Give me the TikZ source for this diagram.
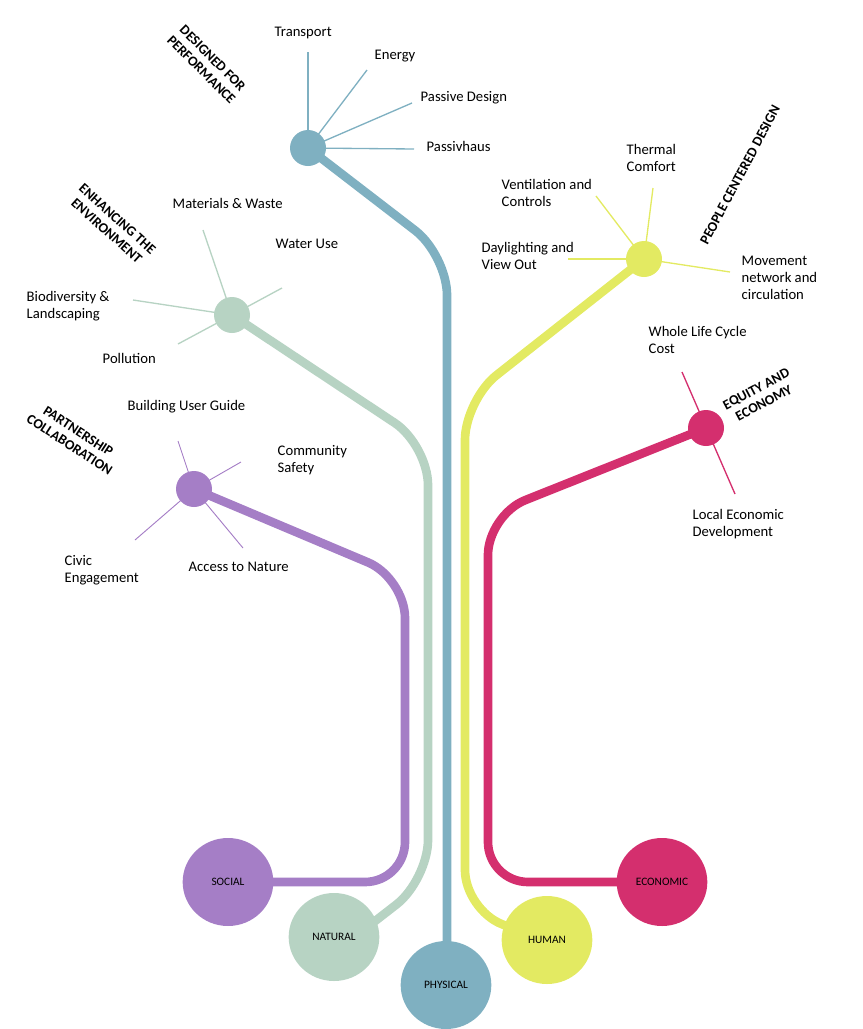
\documentclass[tikz,border=0pt]{standalone}
\usepackage{fontspec}
\setmainfont{Carlito}
\usetikzlibrary{shapes.geometric}
\begin{document}
\begin{tikzpicture}[x=0.75pt,y=-0.75pt,
  lbl/.style={font=\fontsize{11}{13}\selectfont,align=left},
  ttl/.style={font=\fontsize{10.5}{12}\selectfont\bfseries,align=center},
  hub/.style={circle,minimum size=27pt,inner sep=0},
  big/.style={ellipse,minimum width=68pt,minimum height=66pt,inner sep=0,font=\fontsize{8.5}{10}\selectfont},
  trunk/.style={line width=6.5pt,rounded corners=30pt},
  spoke/.style={line width=1pt}]
\useasboundingbox (0,0) rectangle (863,1029);
\definecolor{cB}{HTML}{7FB0C1}\definecolor{cG}{HTML}{B7D3C3}
\definecolor{cP}{HTML}{A57EC6}\definecolor{cY}{HTML}{E3EA62}
\definecolor{cM}{HTML}{D42F6E}
% trunks
\draw[trunk,cB] (308,148) -- (447,255) -- (447,960);
\draw[trunk,cG] (232,315) -- (428,445) -- (428,880) -- (370,925);
\draw[trunk,cP] (194,489) -- (405,578) -- (405,882) -- (260,882);
\draw[trunk,cY] (644,259) -- (465,400) -- (465,910) -- (530,935);
\draw[trunk,cM] (706,428) -- (488,515) -- (488,882) -- (640,882);
% spokes
\coordinate (b1) at (308,52);\coordinate (b2) at (367,70);\coordinate (b3) at (412,103);\coordinate (b4) at (414,149);
\foreach \c in {b1,b2,b3,b4}\draw[spoke,cB] (308,148) -- (\c);
\coordinate (g1) at (203,230);\coordinate (g2) at (282,288);\coordinate (g3) at (133,300);\coordinate (g4) at (178,344);
\foreach \c in {g1,g2,g3,g4}\draw[spoke,cG] (232,315) -- (\c);
\coordinate (p1) at (178,441);\coordinate (p2) at (241,462);\coordinate (p3) at (135,540);\coordinate (p4) at (243,548);
\foreach \c in {p1,p2,p3,p4}\draw[spoke,cP,line width=0.7pt] (194,489) -- (\c);
\coordinate (y1) at (596,196);\coordinate (y2) at (653,188);\coordinate (y3) at (568,259);\coordinate (y4) at (730,272);
\foreach \c in {y1,y2,y3,y4}\draw[spoke,cY] (644,259) -- (\c);
\coordinate (m1) at (682,372);\coordinate (m2) at (735,494);
\draw[spoke,cM] (m1) -- (m2);
% hubs
\node[hub,fill=cB] (hb) at (308,148) {};
\node[hub,fill=cG] (hg) at (232,315) {};
\node[hub,fill=cP] (hp) at (194,489) {};
\node[hub,fill=cY] (hy) at (644,259) {};
\node[hub,fill=cM] (hm) at (706,428) {};
% big circles
\node[big,fill=cB] (PH) at (446,985) {PHYSICAL};
\node[big,fill=cG] (NA) at (334,937) {NATURAL};
\node[big,fill=cP] (SO) at (228,882) {SOCIAL};
\node[big,fill=cY] (HU) at (547,940) {HUMAN};
\node[big,fill=cM] (EC) at (662,882) {ECONOMIC};
% labels
\node[lbl,anchor=west] (t1) at (270,33) {Transport};
\node[lbl,anchor=west] (t2) at (370,56) {Energy};
\node[lbl,anchor=west] (t3) at (416,98) {Passive Design};
\node[lbl,anchor=west] (t4) at (422,146) {Passivhaus};
\node[lbl,anchor=west] (t5) at (168,203) {Materials \& Waste};
\node[lbl,anchor=west] (t6) at (271,244) {Water Use};
\node[lbl,anchor=west] (t7) at (22,306) {Biodiversity \&\\Landscaping};
\node[lbl,anchor=west] (t8) at (98,358) {Pollution};
\node[lbl,anchor=west] (t9) at (123,407) {Building User Guide};
\node[lbl,anchor=west] (t10) at (273,460) {Community\\Safety};
\node[lbl,anchor=west] (t11) at (60,570) {Civic\\Engagement};
\node[lbl,anchor=west] (t12) at (184,567) {Access to Nature};
\node[lbl,anchor=west] (t13) at (497,193) {Ventilation and\\Controls};
\node[lbl,anchor=west] (t14) at (622,158) {Thermal\\Comfort};
\node[lbl,anchor=west] (t15) at (477,256) {Daylighting and\\View Out};
\node[lbl,anchor=west] (t16) at (737,278) {Movement\\network and\\circulation};
\node[lbl,anchor=west] (t17) at (644,340) {Whole Life Cycle\\Cost};
\node[lbl,anchor=west] (t18) at (688,524) {Local Economic\\Development};
\node[ttl,rotate=-45] (c1) at (207,64) {DESIGNED FOR\\PERFORMANCE};
\node[ttl,rotate=-42] (c2) at (112,225) {ENHANCING THE\\ENVIRONMENT};
\node[ttl,rotate=-33] (c3) at (74,438) {PARTNERSHIP\\COLLABORATION};
\node[ttl,rotate=62] (c4) at (740,175) {PEOPLE CENTERED DESIGN};
\node[ttl,rotate=28] (c5) at (760,396) {EQUITY AND\\ECONOMY};
\end{tikzpicture}
\end{document}
